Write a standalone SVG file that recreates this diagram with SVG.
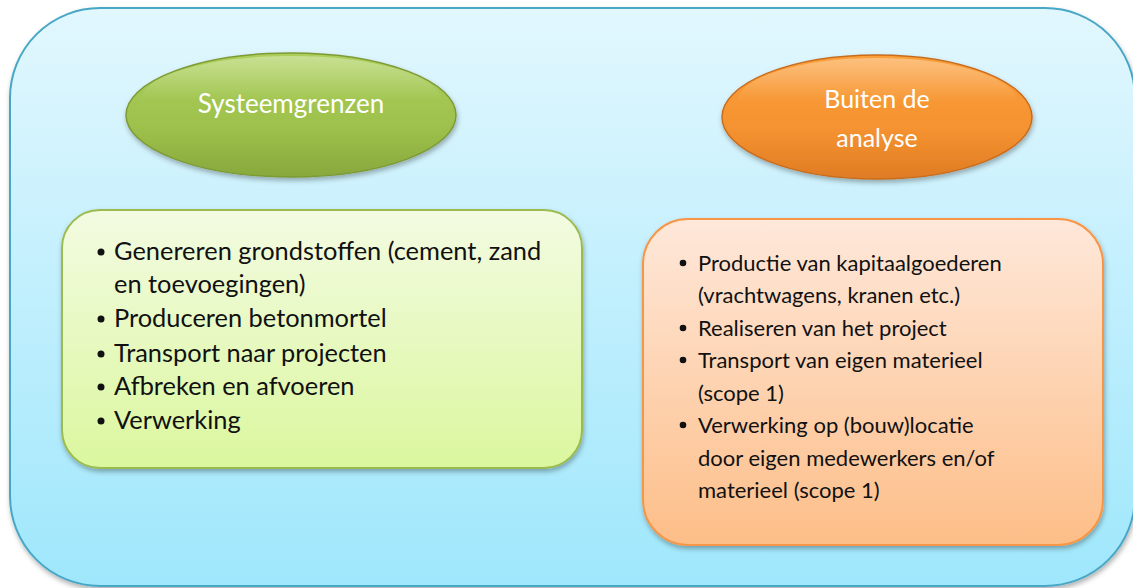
<svg xmlns="http://www.w3.org/2000/svg" width="1133" height="588" viewBox="0 0 1133 588">
<defs>
<linearGradient id="gBg" x1="0" y1="0" x2="0" y2="1"><stop offset="0" stop-color="#e2f7fe"/><stop offset="1" stop-color="#9fe7fc"/></linearGradient>
<linearGradient id="gGreenEl" x1="0" y1="0" x2="0" y2="1"><stop offset="0" stop-color="#abcf5a"/><stop offset="0.6" stop-color="#9dc14c"/><stop offset="1" stop-color="#88a83c"/></linearGradient>
<linearGradient id="gOrangeEl" x1="0" y1="0" x2="0" y2="1"><stop offset="0" stop-color="#fb9f3a"/><stop offset="0.6" stop-color="#f59230"/><stop offset="1" stop-color="#df7c24"/></linearGradient>
<linearGradient id="gGreenBox" x1="0" y1="0" x2="0" y2="1"><stop offset="0" stop-color="#f3fbe2"/><stop offset="1" stop-color="#dbf79e"/></linearGradient>
<linearGradient id="gOrangeBox" x1="0" y1="0" x2="0" y2="1"><stop offset="0" stop-color="#fee8da"/><stop offset="1" stop-color="#fdbe88"/></linearGradient>
<linearGradient id="gGloss" x1="0" y1="0" x2="0" y2="1"><stop offset="0" stop-color="#ffffff" stop-opacity="0.35"/><stop offset="0.5" stop-color="#ffffff" stop-opacity="0"/></linearGradient>
<filter id="shadow" x="-10%" y="-10%" width="120%" height="130%"><feDropShadow dx="1" dy="3" stdDeviation="2.5" flood-color="#000" flood-opacity="0.3"/></filter>
</defs>
<style>
.item{font-family:Lato,"Open Sans","Liberation Sans",sans-serif;font-size:22px;fill:#111}
.g{font-size:25.4px}
.lbl{font-family:Lato,"Open Sans","Liberation Sans",sans-serif;font-size:25px;fill:#fff;text-anchor:middle}
.dot{fill:#111}
</style>
<g id="background">
<rect x="10" y="8" width="1125" height="578" rx="90" ry="90" fill="url(#gBg)" stroke="#48a7c6" stroke-width="2" filter="url(#shadow)"/>
</g>
<g id="node-systeemgrenzen">
<ellipse cx="291" cy="115" rx="165" ry="62" fill="url(#gGreenEl)" stroke="#7e9a35" stroke-width="1.5" filter="url(#shadow)"/>
<ellipse cx="291" cy="100" rx="150" ry="44" fill="url(#gGloss)"/>
<text class="lbl" x="291" y="113" style="font-size:26px">Systeemgrenzen</text>
</g>
<g id="node-buiten">
<ellipse cx="877" cy="117" rx="155" ry="62" fill="url(#gOrangeEl)" stroke="#c96d1e" stroke-width="1.5" filter="url(#shadow)"/>
<ellipse cx="877" cy="102" rx="140" ry="44" fill="url(#gGloss)"/>
<text class="lbl" x="877" y="108">Buiten de</text>
<text class="lbl" x="877" y="147">analyse</text>
</g>
<g id="node-green-list">
<rect x="62" y="210" width="520" height="258" rx="38" ry="38" fill="url(#gGreenBox)" stroke="#9bbb50" stroke-width="2" filter="url(#shadow)"/>
<circle class="dot" cx="101" cy="252" r="3.5"/>
<text class="item g" x="114" y="260">Genereren grondstoffen (cement, zand</text>
<text class="item g" x="114" y="293">en toevoegingen)</text>
<circle class="dot" cx="101" cy="319" r="3.5"/>
<text class="item g" x="114" y="327">Produceren betonmortel</text>
<circle class="dot" cx="101" cy="354" r="3.5"/>
<text class="item g" x="114" y="362">Transport naar projecten</text>
<circle class="dot" cx="101" cy="387" r="3.5"/>
<text class="item g" x="114" y="395">Afbreken en afvoeren</text>
<circle class="dot" cx="101" cy="421" r="3.5"/>
<text class="item g" x="114" y="429">Verwerking</text>
</g>
<g id="node-orange-list">
<rect x="643" y="219" width="460" height="326" rx="45" ry="45" fill="url(#gOrangeBox)" stroke="#f79646" stroke-width="2" filter="url(#shadow)"/>
<circle class="dot" cx="683" cy="263" r="3.3"/>
<text class="item" x="698" y="271">Productie van kapitaalgoederen</text>
<text class="item" x="698" y="303">(vrachtwagens, kranen etc.)</text>
<circle class="dot" cx="683" cy="328" r="3.3"/>
<text class="item" x="698" y="336">Realiseren van het project</text>
<circle class="dot" cx="683" cy="360" r="3.3"/>
<text class="item" x="698" y="368">Transport van eigen materieel</text>
<text class="item" x="698" y="401">(scope 1)</text>
<circle class="dot" cx="683" cy="425" r="3.3"/>
<text class="item" x="698" y="433">Verwerking op (bouw)locatie</text>
<text class="item" x="698" y="466">door eigen medewerkers en/of</text>
<text class="item" x="698" y="498">materieel (scope 1)</text>
</g>
<g id="connectors"/>
</svg>
